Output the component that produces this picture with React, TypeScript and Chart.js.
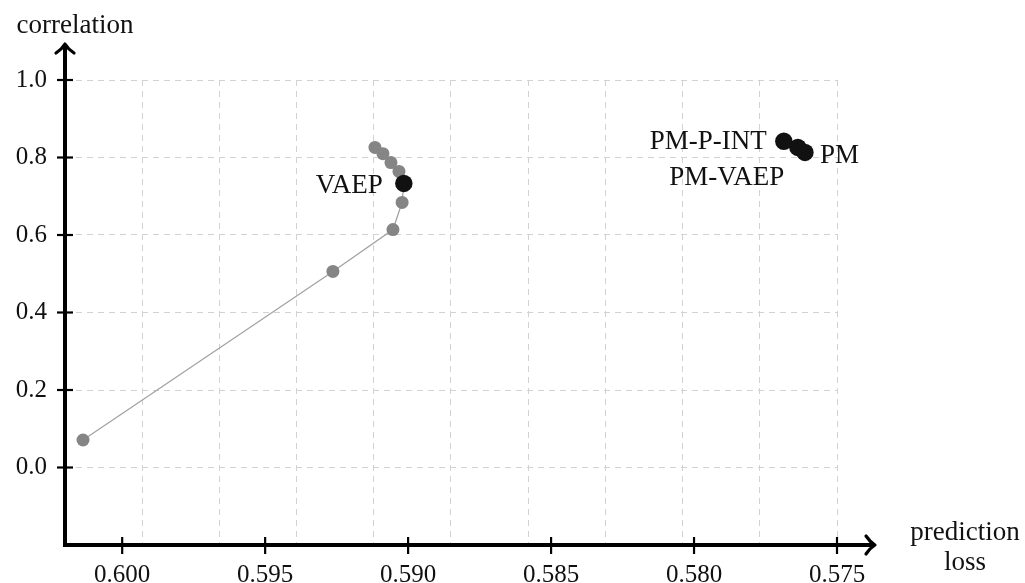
import React, { useEffect, useRef } from 'react';
import { Chart, registerables } from 'chart.js';

Chart.register(...registerables);

// ---- data ----
const xTickValues = [0.6, 0.595, 0.59, 0.585, 0.58, 0.575];
const yTickValues = [-0.2, 0.0, 0.2, 0.4, 0.6, 0.8, 1.0];
const xGridValues = [0.602, 0.5993, 0.5966, 0.5939, 0.5912, 0.5885, 0.5858, 0.5831, 0.5804, 0.5777, 0.575];
const xMin = 0.575;
const xMax = 0.602;
const yMin = -0.2;
const yMax = 1.0;

const pathLoss = [0.60137, 0.59263, 0.59053, 0.59021, 0.59015, 0.59032, 0.5906, 0.59088, 0.59116];
const pathCorr = [0.071, 0.506, 0.614, 0.684, 0.733, 0.764, 0.787, 0.81, 0.826];

const methodNames = ['VAEP', 'PM-P-INT', 'PM-VAEP', 'PM'];
const methodLoss = [0.59015, 0.57686, 0.57637, 0.57612];
const methodCorr = [0.733, 0.842, 0.826, 0.813];

const xTitle = ['prediction', 'loss'];
const yTitle = 'correlation';

// ---- styling (label placement relative to the point) ----
const labelPlacement = [
  { dx: -21, dy: 10, align: 'right' },
  { dx: -17, dy: 8, align: 'right' },
  { dx: -71, dy: 38, align: 'center' },
  { dx: 15, dy: 11, align: 'left' },
];

const SERIF = '"Liberation Serif", "DejaVu Serif", serif';
const TEXT_FONT = `27px ${SERIF}`;

const axesPlugin = {
  id: 'pgfAxes',
  afterDraw(chart: any) {
    const { ctx, chartArea } = chart;
    const xs = chart.scales.x;
    const ys = chart.scales.y;
    const left = chartArea.left;
    const bottom = chartArea.bottom;
    ctx.save();
    ctx.strokeStyle = '#000';
    ctx.lineWidth = 4;
    ctx.lineCap = 'butt';
    ctx.lineJoin = 'miter';
    // y axis line
    ctx.beginPath();
    ctx.moveTo(left, bottom + 2);
    ctx.lineTo(left, 45);
    ctx.stroke();
    // x axis line
    ctx.beginPath();
    ctx.moveTo(left - 2, bottom);
    ctx.lineTo(874, bottom);
    ctx.stroke();
    // arrowheads
    ctx.lineWidth = 3.2;
    ctx.lineCap = 'round';
    ctx.lineJoin = 'round';
    ctx.beginPath();
    ctx.moveTo(left - 9, 53);
    ctx.quadraticCurveTo(left - 3, 49, left, 44);
    ctx.quadraticCurveTo(left + 3, 49, left + 9, 53);
    ctx.stroke();
    ctx.beginPath();
    ctx.moveTo(866, bottom - 9);
    ctx.quadraticCurveTo(870, bottom - 3, 875, bottom);
    ctx.quadraticCurveTo(870, bottom + 3, 866, bottom + 9);
    ctx.stroke();
    // tick marks crossing the axes
    ctx.lineCap = 'butt';
    ctx.lineWidth = 2.2;
    xTickValues.forEach((v) => {
      const px = xs.getPixelForValue(v);
      ctx.beginPath();
      ctx.moveTo(px, bottom - 8);
      ctx.lineTo(px, bottom + 9);
      ctx.stroke();
    });
    yTickValues.forEach((v) => {
      if (v < 0) return;
      const py = ys.getPixelForValue(v);
      ctx.beginPath();
      ctx.moveTo(left - 8, py);
      ctx.lineTo(left + 8, py);
      ctx.stroke();
    });
    // axis titles
    ctx.fillStyle = '#111';
    ctx.font = TEXT_FONT;
    ctx.textBaseline = 'alphabetic';
    ctx.textAlign = 'center';
    ctx.fillText(yTitle, 75, 33);
    ctx.fillText(xTitle[0], 965, 540);
    ctx.fillText(xTitle[1], 965, 570);
    // point labels
    methodNames.forEach((name, i) => {
      const px = xs.getPixelForValue(methodLoss[i]);
      const py = ys.getPixelForValue(methodCorr[i]);
      const p = labelPlacement[i];
      ctx.textAlign = p.align;
      ctx.fillText(name, px + p.dx, py + p.dy);
    });
    ctx.restore();
  },
};

export default function App() {
  const canvasRef = useRef<HTMLCanvasElement | null>(null);

  useEffect(() => {
    const canvas = canvasRef.current;
    if (!canvas) return;
    const chart = new Chart(canvas, {
      type: 'scatter',
      data: {
        datasets: [
          {
            label: 'methods',
            data: methodLoss.map((x, i) => ({ x, y: methodCorr[i] })),
            pointRadius: 8.7,
            pointBackgroundColor: '#111',
            pointBorderWidth: 0,
            showLine: false,
          },
          {
            label: 'path',
            data: pathLoss.map((x, i) => ({ x, y: pathCorr[i] })),
            showLine: true,
            borderColor: '#a3a3a3',
            borderWidth: 1.3,
            pointRadius: 6.5,
            pointBackgroundColor: '#858585',
            pointBorderWidth: 0,
          },
        ],
      },
      options: {
        responsive: false,
        animation: false,
        events: [],
        layout: { padding: { left: 0, right: 188, top: 80, bottom: 0 } },
        plugins: {
          legend: { display: false },
          tooltip: { enabled: false },
          title: { display: false },
        },
        scales: {
          x: {
            type: 'linear',
            position: 'bottom',
            min: xMin,
            max: xMax,
            reverse: true,
            afterBuildTicks: (axis: any) => {
              axis.ticks = xTickValues.map((value) => ({ value }));
            },
            afterFit: (axis: any) => {
              axis.height = 38;
            },
            grid: { display: false, drawTicks: false },
            border: { display: false },
            ticks: {
              padding: 15,
              color: '#111',
              font: { family: SERIF, size: 25 },
              maxRotation: 0,
              autoSkip: false,
              callback: (v: any) => Number(v).toFixed(3),
            },
          },
          xg: {
            type: 'linear',
            position: 'bottom',
            min: xMin,
            max: xMax,
            reverse: true,
            afterBuildTicks: (axis: any) => {
              axis.ticks = xGridValues.map((value) => ({ value }));
            },
            afterFit: (axis: any) => {
              axis.height = 0;
            },
            grid: { display: true, drawTicks: false, color: '#d2d2d2', lineWidth: 1 },
            border: { display: false, dash: [6, 5] },
            ticks: { display: false },
          },
          y: {
            type: 'linear',
            position: 'left',
            min: yMin,
            max: yMax,
            afterBuildTicks: (axis: any) => {
              axis.ticks = yTickValues.map((value) => ({ value }));
            },
            afterFit: (axis: any) => {
              axis.width = 65;
            },
            grid: { display: true, drawTicks: false, color: '#d2d2d2', lineWidth: 1 },
            border: { display: false, dash: [6, 5] },
            ticks: {
              padding: 18,
              color: '#111',
              font: { family: SERIF, size: 25 },
              autoSkip: false,
              callback: (v: any) => (Number(v) < -0.01 ? '' : Number(v).toFixed(1)),
            },
          },
        },
      },
      plugins: [axesPlugin],
    });
    return () => chart.destroy();
  }, []);

  return (
    <div style={{ position: 'fixed', left: 0, top: 0, width: 1025, height: 583, background: '#fff' }}>
      <canvas ref={canvasRef} width={1025} height={583} style={{ display: 'block' }} />
    </div>
  );
}
